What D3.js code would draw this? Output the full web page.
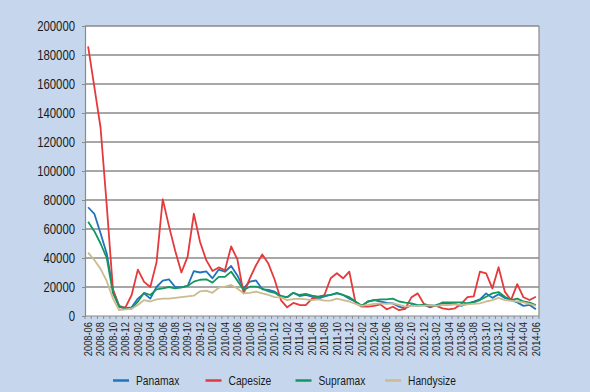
<!DOCTYPE html>
<html><head><meta charset="utf-8">
<script src="https://cdn.jsdelivr.net/npm/d3@7"></script>
<style>
html,body{margin:0;padding:0;background:#c6d7ed;}
svg{display:block;}
text{font-family:"Liberation Sans",Arial,sans-serif;fill:#1a1a1a;}
</style></head>
<body><svg id="c" width="590" height="392"></svg>
<script>
const months = ["2008-06","2008-07","2008-08","2008-09","2008-10","2008-11","2008-12",
"2009-01","2009-02","2009-03","2009-04","2009-05","2009-06","2009-07","2009-08","2009-09","2009-10","2009-11","2009-12",
"2010-01","2010-02","2010-03","2010-04","2010-05","2010-06","2010-07","2010-08","2010-09","2010-10","2010-11","2010-12",
"2011-01","2011-02","2011-03","2011-04","2011-05","2011-06","2011-07","2011-08","2011-09","2011-10","2011-11","2011-12",
"2012-01","2012-02","2012-03","2012-04","2012-05","2012-06","2012-07","2012-08","2012-09","2012-10","2012-11","2012-12",
"2013-01","2013-02","2013-03","2013-04","2013-05","2013-06","2013-07","2013-08","2013-09","2013-10","2013-11","2013-12",
"2014-01","2014-02","2014-03","2014-04","2014-05","2014-06"];

const panamax = [75000,70500,57000,43000,18000,7000,5500,6000,12000,15600,
12000,20000,24400,25300,20000,19800,20700,31000,30000,30800,
26000,32000,30500,34500,28000,19000,23700,24500,18400,18000,
16800,13800,13000,16000,13800,14500,13300,12000,13500,14500,
15600,14500,12000,9900,6900,10000,11000,10000,9000,8700,
6400,5300,7500,7000,7600,6000,7600,8700,8700,8300,
7000,8700,9900,11500,15600,12500,15000,12500,11000,9400,
7000,7600,4600];

const capesize = [186000,158000,130000,76000,18000,6000,6000,14500,32000,23500,
20000,37000,80500,62000,45000,30000,41000,70500,51000,38500,
31000,33500,31500,48000,39000,15600,26000,35000,42500,36000,
25000,11000,6000,9000,7600,7500,12000,13000,14500,26000,
29500,26000,30600,9000,6400,6400,7000,8000,4600,6400,
4000,5000,13000,15600,8300,7000,7000,5300,4600,5300,
8300,13000,13500,30600,29400,19000,33600,16800,11000,22000,
12900,11000,13300];

const supramax = [65000,58500,50000,40000,15600,6400,5000,5000,9900,16000,
14500,18400,19000,20000,19000,19800,20700,23700,25000,25300,
23000,27000,27000,30600,24400,18000,20200,20200,19000,17000,
16000,13300,13000,16000,14500,15200,14000,13300,14000,14500,
16000,14500,13000,10000,7000,10000,11000,11500,11500,12000,
10000,9200,8700,7500,7500,7500,7000,9400,9400,9400,
9400,8700,9400,11000,13300,15600,16500,13300,11000,12000,
10000,9200,7600];

const handysize = [43700,38600,32500,24000,12000,4000,4500,5000,7600,11000,
10000,11500,12000,12000,12500,13000,13500,14000,17000,17500,
16000,19500,20200,21400,19000,15600,16000,16800,15600,14500,
13000,12800,11000,11700,12000,11500,11000,11500,10600,10600,
12000,11000,10000,8300,7000,7600,8300,8700,8300,8700,
7600,6400,7000,7000,7000,7500,7000,7600,7600,8000,
7600,8000,8300,8700,10000,11000,12500,11000,10500,10000,
9400,8300,7000];

const yTicks = [0,20000,40000,60000,80000,100000,120000,140000,160000,180000,200000];
const seriesNames = ["Panamax","Capesize","Supramax","Handysize"];
const seriesColors = ["#1f74bb","#e5393b","#14975f","#cbbb90"];
const seriesData = [panamax, capesize, supramax, handysize];

const svg = d3.select("#c");
const L = 85, R = 539, T = 26, B = 316;

const x = d3.scaleBand().domain(months).range([L, R]).padding(0);
const y = d3.scaleLinear().domain([0, 200000]).range([B, T]);

svg.append("rect").attr("x", L).attr("y", T).attr("width", R - L).attr("height", B - T).attr("fill", "#fff");

// gridlines
svg.append("g").selectAll("line").data(yTicks.slice(1)).join("line")
  .attr("x1", L).attr("x2", R).attr("y1", d => y(d)).attr("y2", d => y(d))
  .attr("stroke", "#8a8a8a").attr("stroke-width", 1.5);

// right border
svg.append("line").attr("x1", R).attr("x2", R).attr("y1", T).attr("y2", B)
  .attr("stroke", "#8a8a8a").attr("stroke-width", 1.2);

// y axis
const SX = 0.81;
const ya = svg.append("g").attr("transform", `translate(${L},0)`)
  .call(d3.axisLeft(y).tickValues(yTicks).tickSize(3).tickPadding(7).tickFormat(d3.format("d")));
ya.select(".domain").attr("stroke", "#8a8a8a").attr("stroke-width", 1.2);
ya.selectAll(".tick line").attr("stroke", "#8a8a8a");
ya.selectAll("text").style("font-size", "14px").attr("fill", "#1a1a1a")
  .style("font-family", '"Liberation Sans",Arial,sans-serif')
  .attr("x", -10 / SX).attr("transform", `scale(${SX},1)`);

// x axis: ticks at each month boundary
const xa = svg.append("g").attr("transform", `translate(0,${B})`);
xa.append("line").attr("x1", L).attr("x2", R).attr("y1", 0).attr("y2", 0)
  .attr("stroke", "#8a8a8a").attr("stroke-width", 1.2);
xa.selectAll("line.t").data(months.concat(["end"])).join("line").attr("class", "t")
  .attr("x1", (d, i) => L + i * x.bandwidth()).attr("x2", (d, i) => L + i * x.bandwidth())
  .attr("y1", 0).attr("y2", 3).attr("stroke", "#8a8a8a").attr("stroke-width", 1);
xa.selectAll("text").data(months.filter((d, i) => i % 2 === 0)).join("text")
  .attr("transform", d => `translate(${x(d) + x.bandwidth() / 2 + 3.8},6) rotate(-90) scale(0.85,1)`)
  .attr("text-anchor", "end")
  .style("font-size", "11px")
  .text(d => d);

// lines
const line = d3.line().x((d, i) => x(months[i]) + x.bandwidth() / 2).y(d => y(d));
seriesData.forEach((s, k) => {
  svg.append("path").datum(s).attr("d", line).attr("fill", "none")
    .attr("stroke", seriesColors[k]).attr("stroke-width", 1.8).attr("stroke-linejoin", "round");
});

// legend
const legX = [113, 205.5, 295.5, 385];
const lg = svg.append("g");
seriesNames.forEach((n, k) => {
  lg.append("line").attr("x1", legX[k]).attr("x2", legX[k] + 16).attr("y1", 380.5).attr("y2", 380.5)
    .attr("stroke", seriesColors[k]).attr("stroke-width", 2.5);
  lg.append("text").attr("transform", `translate(${legX[k] + 23},385.3) scale(0.79,1)`)
    .style("font-size", "13px").text(n);
});
</script></body></html>
